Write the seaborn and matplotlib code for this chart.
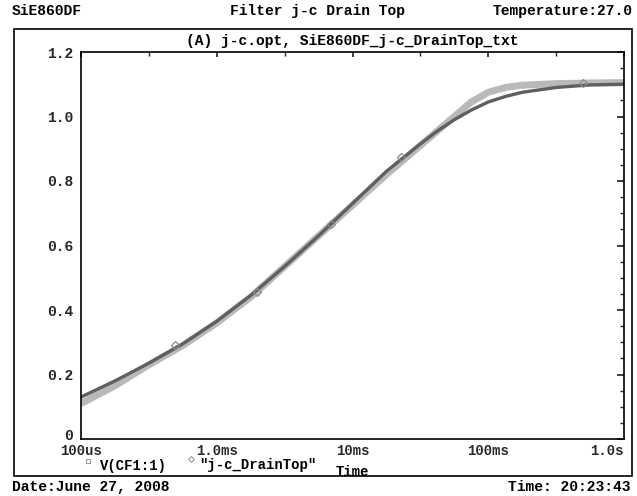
import numpy as np
import pandas as pd
import matplotlib
matplotlib.use("Agg")
import matplotlib.pyplot as plt
from matplotlib.patches import Rectangle
from matplotlib.ticker import FixedLocator, NullFormatter
from matplotlib.transforms import ScaledTranslation
import seaborn as sns

# ------------------------------#
# Data
# ------------------------------#
log_time = [-4.0, -3.75, -3.5, -3.25, -3.0, -2.75, -2.5, -2.25, -2.0,
            -1.75, -1.5, -1.375, -1.25, -1.125, -1.0, -0.875, -0.75,
            -0.5, -0.25, 0.0]
v_cf1 = [0.13, 0.18, 0.235, 0.295, 0.365, 0.445, 0.535, 0.63, 0.73,
         0.83, 0.915, 0.955, 0.99, 1.02, 1.045, 1.062, 1.075,
         1.09, 1.098, 1.10]
drain_top = [0.11, 0.165, 0.23, 0.29, 0.36, 0.44, 0.535, 0.63, 0.725,
             0.82, 0.91, 0.955, 1.00, 1.045, 1.075, 1.09, 1.097,
             1.102, 1.104, 1.105]

# marker positions on the measured trace
marker_log_time = [-3.31, -2.70, -2.155, -1.64, -0.30]
marker_values = [0.29, 0.455, 0.667, 0.875, 1.103]

x_ticks = [1e-4, 1e-3, 1e-2, 1e-1, 1.0]
x_labels = ["100us", "1.0ms", "10ms", "100ms", "1.0s"]
y_ticks = [0, 0.2, 0.4, 0.6, 0.8, 1.0, 1.2]
y_labels = ["0", "0.2", "0.4", "0.6", "0.8", "1.0", "1.2"]

df = pd.DataFrame({
    "time": np.power(10.0, log_time),
    "V(CF1:1)": v_cf1,
    "j-c_DrainTop": drain_top,
})

# ------------------------------#
# Style
# ------------------------------#
sns.set_theme(style="white")
plt.rcParams["font.family"] = ["Liberation Mono", "DejaVu Sans Mono"]
plt.rcParams["font.weight"] = "bold"

DARK = "#5f5f5f"
LIGHT = "#b9b9b9"
FS = 10.5
FS_SMALL = 10

fig = plt.figure(figsize=(6.37, 4.96), dpi=100)
ax = fig.add_axes([81 / 637, 1 - 439 / 496, (624 - 81) / 637, (439 - 52) / 496])

sns.lineplot(data=df, x="time", y="j-c_DrainTop", ax=ax, color=LIGHT,
             linewidth=5.0, solid_capstyle="butt")
sns.lineplot(data=df, x="time", y="V(CF1:1)", ax=ax, color=DARK,
             linewidth=2.4)
ax.plot(np.power(10.0, marker_log_time), marker_values, ls="none",
        marker="D", ms=4, mfc="none", mec="#8a8a8a", mew=0.9)

ax.set_xscale("log")
ax.set_xlim(1e-4, 1.0)
ax.set_ylim(0, 1.2)

minor_x = [10 ** (e + 0.5) for e in range(-4, 0)]
minor_y = [v / 20 for v in range(25) if v % 4 != 0]

ax.xaxis.set_major_locator(FixedLocator(x_ticks))
ax.xaxis.set_minor_locator(FixedLocator(minor_x))
ax.xaxis.set_minor_formatter(NullFormatter())
ax.set_xticklabels(x_labels)
ax.yaxis.set_major_locator(FixedLocator(y_ticks))
ax.yaxis.set_minor_locator(FixedLocator(minor_y))
ax.set_yticklabels(y_labels)

ax.tick_params(which="major", direction="inout", length=7.5, width=1.0,
               color="black", labelsize=FS, pad=2)
ax.tick_params(which="minor", direction="in", length=3, width=1.0,
               color="black")
ax.tick_params(axis="x", which="major", pad=-0.5, labelsize=FS_SMALL)
labels = ax.get_xticklabels()
labels[-1].set_horizontalalignment("right")
for lab in ax.get_xticklabels() + ax.get_yticklabels():
    lab.set_fontweight("bold")

# the "0" label sits a little above its tick, clear of "100us"
zero_lab = ax.get_yticklabels()[0]
zero_lab.set_transform(zero_lab.get_transform()
                       + ScaledTranslation(0, 4 / 100, fig.dpi_scale_trans))

# top / right ticks point inward only
top = ax.secondary_xaxis("top")
top.xaxis.set_major_locator(FixedLocator(x_ticks))
top.xaxis.set_minor_locator(FixedLocator(minor_x))
top.tick_params(which="major", direction="in", length=3.5, labeltop=False)
top.tick_params(which="minor", direction="in", length=3)
top.xaxis.set_major_formatter(NullFormatter())
top.xaxis.set_minor_formatter(NullFormatter())

right = ax.secondary_yaxis("right")
right.yaxis.set_major_locator(FixedLocator(y_ticks))
right.yaxis.set_minor_locator(FixedLocator(minor_y))
right.tick_params(which="major", direction="in", length=5, labelright=False)
right.tick_params(which="minor", direction="in", length=3)
right.yaxis.set_major_formatter(NullFormatter())

for sp in ax.spines.values():
    sp.set_color("black")
    sp.set_linewidth(1.2)
for sp in list(top.spines.values()) + list(right.spines.values()):
    sp.set_visible(False)

ax.set_xlabel("")
ax.set_ylabel("")

# ------------------------------#
# Frame and annotations
# ------------------------------#
fig.patches.append(Rectangle((14 / 637, 1 - 476 / 496), (632 - 14) / 637,
                             (476 - 29) / 496, transform=fig.transFigure,
                             fill=False, edgecolor="black", linewidth=1.2))

def fig_text(x, y, s, ha="left", size=FS):
    fig.text(x / 637, 1 - y / 496, s, ha=ha, va="center", fontsize=size,
             fontweight="bold", color="black")

fig_text(12, 11, "SiE860DF")
fig_text(318, 11, "Filter j-c Drain Top", ha="center")
fig_text(633, 11, "Temperature:27.0", ha="right")
fig_text(352, 41, "(A) j-c.opt, SiE860DF_j-c_DrainTop_txt", ha="center")

fig_text(100, 466, "V(CF1:1)", size=FS_SMALL)
fig_text(199, 465, '"j-c_DrainTop"', size=FS_SMALL)
fig_text(352, 472, "Time", ha="center", size=FS_SMALL)
fig.lines.append(plt.Line2D([88 / 637], [1 - 461 / 496], marker="s", ms=3.5,
                            mfc="none", mec="#9a9a9a", mew=0.8,
                            transform=fig.transFigure))
fig.lines.append(plt.Line2D([191 / 637], [1 - 459 / 496], marker="D", ms=3,
                            mfc="none", mec="#9a9a9a", mew=0.8,
                            transform=fig.transFigure))

fig_text(12, 487, "Date:June 27, 2008")
fig_text(631, 487, "Time: 20:23:43", ha="right")

fig.savefig("out.png", dpi=100, facecolor="white")
